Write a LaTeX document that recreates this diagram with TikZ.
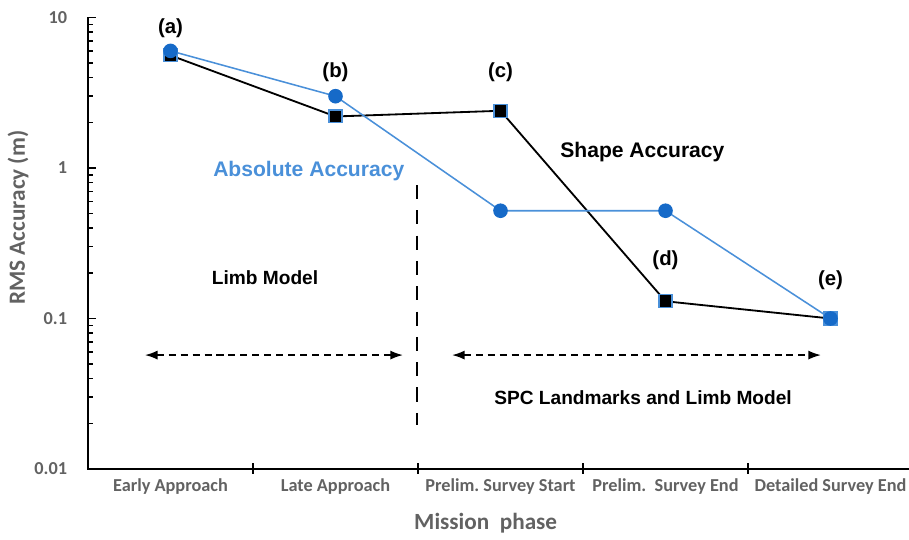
\documentclass[tikz,border=0pt]{standalone}
\usepackage{fontspec}
\usepackage{tikz}
\usetikzlibrary{arrows.meta}
\usepackage{xcolor}
\newfontfamily\plotfont{Liberation Sans}
\newfontfamily\axisfont{Carlito}
\definecolor{absblue}{RGB}{74,144,217}
\definecolor{dotblue}{RGB}{22,106,200}
\definecolor{axisgray}{RGB}{98,98,98}
\frenchspacing

\tikzset{
  axisline/.style={line width=1.6pt},
  ticklabel/.style={font=\axisfont\bfseries\fontsize{13}{15}\selectfont,text=axisgray},
  axistitle/.style={font=\axisfont\bfseries\fontsize{16.5}{18}\selectfont,text=axisgray},
  shapeline/.style={line width=1.3pt},
  absline/.style={absblue,line width=1.1pt},
  sqmark/.style={draw=absblue,fill=black,line width=0.8pt,minimum size=9.2pt,inner sep=0pt},
  dotmark/.style={circle,fill=dotblue,minimum size=10.4pt,inner sep=0pt},
  ptlabel/.style={font=\plotfont\bfseries\fontsize{14.5}{16}\selectfont},
  curvename/.style={font=\plotfont\bfseries\fontsize{15}{17}\selectfont},
  modelname/.style={font=\plotfont\bfseries\fontsize{13.6}{15}\selectfont},
  spanarrow/.style={line width=1.2pt,dash pattern=on 5pt off 3.5pt,
    {Latex[length=9pt,width=6.5pt]}-{Latex[length=9pt,width=6.5pt]}},
  divider/.style={line width=1.3pt,dash pattern=on 10pt off 8pt}
}

\begin{document}
\begin{tikzpicture}[line cap=butt]
\useasboundingbox (0,0) rectangle (22.725,13.475);
% log axis: one unit in x per phase, one unit in y per decade (0.01 at y=0)
\begin{scope}[shift={(2.2,1.75)},x=4.125cm,y=3.7625cm]
\draw[axisline] (0,3) -- (0,0) -- (4.98,0);
\foreach \i in {1,...,4}
  \draw[axisline,line width=1.2pt] (\i,0) ++(0,-0.12cm) -- ++(0,0.26cm);
\foreach \d in {0,1,2}{
  \foreach \m in {2,...,9}
    \draw[line width=1.1pt] (0,{\d+log10(\m)}) -- ++(0.13cm,0);
}
\foreach \d in {1,2,3}
  \draw[line width=1.2pt] (0,\d) -- ++(0.2cm,0);
\foreach \d/\t in {0/0.01,1/0.1,2/1,3/10}
  \node[ticklabel,anchor=east] (ytick\d) at ([xshift=-0.4cm]0,\d) {\t};
\foreach \i/\t in {0/Early Approach,1/Late Approach,2/Prelim. Survey Start,3/Prelim.\ \ Survey End,4/Detailed Survey End}
  \node[ticklabel] (phase\i) at ([yshift=-0.45cm]\i+0.5,0) {\t};
\node[axistitle] (xtitle) at ([yshift=-1.35cm]2.41,0) {Mission\ \ phase};
\node[axistitle,rotate=90] (ytitle) at ([xshift=-1.75cm]0,1.67) {RMS Accuracy (m)};

% shape accuracy
\coordinate (s1) at (0.5,{log10(5.6)+2});
\coordinate (s2) at (1.5,{log10(2.2)+2});
\coordinate (s3) at (2.5,{log10(2.4)+2});
\coordinate (s4) at (3.5,{log10(0.127)+2});
\coordinate (s5) at (4.5,1);
\draw[shapeline] (s1) -- (s2) -- (s3) -- (s4) -- (s5);
\foreach \p in {s1,s2,s3,s4}
  \node[sqmark] at (\p) {};
\node[sqmark,fill=absblue] at (s5) {};

% absolute accuracy
\coordinate (a1) at (0.5,{log10(6.0)+2});
\coordinate (a2) at (1.5,{log10(3.0)+2});
\coordinate (a3) at (2.5,{log10(0.52)+2});
\coordinate (a4) at (3.5,{log10(0.52)+2});
\coordinate (a5) at (4.5,1);
\draw[absline] (a1) -- (a2) -- (a3) -- (a4) -- (a5);
\foreach \p in {a1,a2,a3,a4,a5}
  \node[dotmark] at (\p) {};

\node[ptlabel] (la) at (0.5,2.93) {(a)};
\node[ptlabel] (lb) at (1.5,2.638) {(b)};
\node[ptlabel] (lc) at (2.5,2.638) {(c)};
\node[ptlabel] (ld) at (3.5,1.389) {(d)};
\node[ptlabel] (le) at (4.5,1.256) {(e)};
\node[curvename,text=absblue] (absname) at (1.338,1.98) {Absolute Accuracy};
\node[curvename] (shapename) at (3.36,2.106) {Shape Accuracy};

% model phases
\node[modelname] (limb) at (1.073,1.269) {Limb Model};
\node[modelname] (spc) at (3.364,0.472) {SPC Landmarks and Limb Model};
\coordinate (lm0) at (0.345,0.757);
\coordinate (lm1) at (1.909,0.757);
\coordinate (sp0) at (2.206,0.757);
\coordinate (sp1) at (4.442,0.757);
\draw[spanarrow] (lm0) -- (lm1);
\draw[spanarrow] (sp0) -- (sp1);
\coordinate (dv0) at (1.994,1.887);
\coordinate (dv1) at (1.994,0.292);
\draw[divider] (dv0) -- (dv1);
\end{scope}
\end{tikzpicture}
\end{document}
